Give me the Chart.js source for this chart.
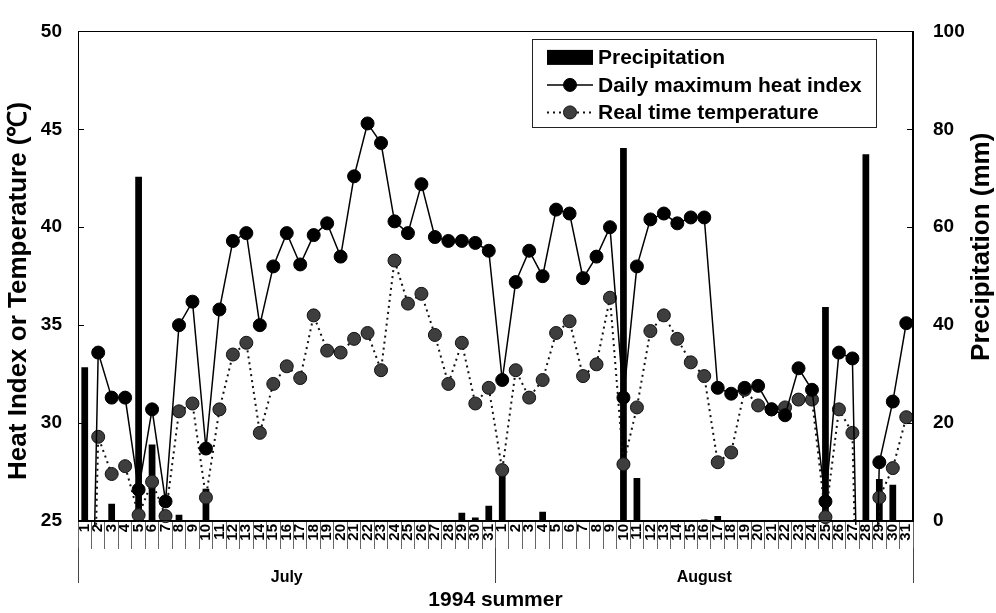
<!DOCTYPE html>
<html>
<head>
<meta charset="utf-8">
<script src="https://cdn.jsdelivr.net/npm/chart.js@4/dist/chart.umd.min.js"></script>
<style>
html,body{margin:0;padding:0;background:#fff;}
#wrap{width:996px;height:613px;}
</style>
</head>
<body>
<div id="wrap"><canvas id="c" width="996" height="613"></canvas></div>
<script>
// ---- data ----
const dayLabels = [
  '1','2','3','4','5','6','7','8','9','10','11','12','13','14','15','16','17','18','19','20','21','22','23','24','25','26','27','28','29','30','31',
  '1','2','3','4','5','6','7','8','9','10','11','12','13','14','15','16','17','18','19','20','21','22','23','24','25','26','27','28','29','30','31'
];
const monthLabels = ['July', 'August'];

// Precipitation (mm), right axis
const precipitation = [
  31.4, 0, 3.5, 0, 70.3, 15.6, 0, 1.3, 0, 6.6, 0, 0, 0, 0, 0, 0, 0, 0, 0, 0, 0, 0, 0, 0, 0, 0, 0, 0, 1.7, 0.7, 3.1,
  11.0, 0, 0, 1.9, 0, 0, 0, 0, 0, 76.2, 8.8, 0, 0, 0, 0.2, 0.3, 1.0, 0, 0, 0, 0, 0, 0, 0, 43.7, 0, 0, 74.9, 8.6, 7.4, 0
];

// Daily maximum heat index (°C), left axis
const heatIndex = [
  0, 33.6, 31.3, 31.3, 26.6, 30.7, 26.0, 35.0, 36.2, 28.7, 35.8, 39.3, 39.7, 35.0, 38.0, 39.7, 38.1, 39.6, 40.2, 38.5, 42.6, 45.3, 44.3, 40.3, 39.7, 42.2, 39.5, 39.3, 39.3, 39.2, 38.8,
  32.2, 37.2, 38.8, 37.5, 40.9, 40.7, 37.4, 38.5, 40.0, 31.3, 38.0, 40.4, 40.7, 40.2, 40.5, 40.5, 31.8, 31.5, 31.8, 31.9, 30.7, 30.4, 32.8, 31.7, 26.0, 33.6, 33.3, 0, 28.0, 31.1, 35.1
];

// Real time temperature (°C), left axis
const realTemp = [
  0, 29.3, 27.4, 27.8, 25.3, 27.0, 25.25, 30.6, 31.0, 26.2, 30.7, 33.5, 34.1, 29.5, 32.0, 32.9, 32.3, 35.5, 33.7, 33.6, 34.3, 34.6, 32.7, 38.3, 36.1, 36.6, 34.5, 32.0, 34.1, 31.0, 31.8,
  27.6, 32.7, 31.3, 32.2, 34.6, 35.2, 32.4, 33.0, 36.4, 27.9, 30.8, 34.7, 35.5, 34.3, 33.1, 32.4, 28.0, 28.5, 31.7, 30.9, 30.7, 30.8, 31.2, 31.2, 25.2, 30.7, 29.5, 0, 26.2, 27.7, 30.3
];

const leftTitle = 'Heat Index or Temperature (\u2103)';
const rightTitle = 'Precipitation (mm)';
const bottomTitle = '1994 summer';

// ---- chart ----
const FAM = "'Liberation Sans', Arial, Helvetica, sans-serif";
Chart.defaults.font.family = FAM;
Chart.defaults.color = '#000';

const framePlugin = {
  id: 'frameAndLegend',
  afterDraw(chart) {
    const ctx = chart.ctx;
    const a = chart.chartArea;
    ctx.save();
    // frame
    ctx.strokeStyle = '#000';
    ctx.lineWidth = 1;
    ctx.setLineDash([]);
    ctx.strokeRect(Math.round(a.left) + 0.5, Math.round(a.top) + 0.5, Math.round(a.width) - 1, Math.round(a.height) - 1);
    // inward tick marks on both value axes
    const ys = chart.scales.y, ys2 = chart.scales.y2;
    ctx.beginPath();
    ys.ticks.forEach(t => {
      const p = Math.round(ys.getPixelForValue(t.value)) + 0.5;
      ctx.moveTo(a.left, p); ctx.lineTo(a.left + 6, p);
    });
    ys2.ticks.forEach(t => {
      const p = Math.round(ys2.getPixelForValue(t.value)) + 0.5;
      ctx.moveTo(a.right, p); ctx.lineTo(a.right - 6, p);
    });
    ctx.stroke();

    // left axis title (reads bottom-to-top)
    ctx.save();
    ctx.font = 'bold 26px ' + FAM;
    ctx.fillStyle = '#000';
    ctx.textAlign = 'center';
    ctx.textBaseline = 'middle';
    ctx.translate(19, a.top + a.height * 0.53);
    ctx.rotate(-Math.PI / 2);
    ctx.fillText(leftTitle, 0, 0);
    ctx.restore();

    // right axis title (reads bottom-to-top)
    ctx.save();
    ctx.font = 'bold 26px ' + FAM;
    ctx.fillStyle = '#000';
    ctx.textAlign = 'center';
    ctx.textBaseline = 'middle';
    ctx.translate(chart.width - 14, a.top + a.height * 0.44);
    ctx.rotate(-Math.PI / 2);
    ctx.fillText(rightTitle, 0, 0);
    ctx.restore();

    // legend box
    const ds = chart.data.datasets;
    ctx.font = 'bold 21px ' + FAM;
    const maxW = Math.max(...ds.map(d => ctx.measureText(d.label).width));
    const boxLeft = a.left + a.width - 381;
    const boxTop = a.top + 8;
    const swL = boxLeft + 15, swR = boxLeft + 61, textX = boxLeft + 66;
    const boxW = textX + maxW + 14 - boxLeft;
    const rowH = 27.5;
    const boxH = 88;
    ctx.fillStyle = '#fff';
    ctx.fillRect(boxLeft, boxTop, boxW, boxH);
    ctx.strokeStyle = '#222';
    ctx.lineWidth = 1;
    ctx.strokeRect(Math.round(boxLeft) + 0.5, Math.round(boxTop) + 0.5, Math.round(boxW), Math.round(boxH));
    ds.forEach((d, i) => {
      const cy = boxTop + 18 + i * rowH;
      ctx.save();
      if (d.type === 'bar') {
        ctx.fillStyle = d.backgroundColor;
        ctx.fillRect(swL, cy - 7.5, swR - swL, 15);
      } else {
        ctx.strokeStyle = d.borderColor;
        ctx.lineWidth = d.borderWidth;
        ctx.setLineDash(d.borderDash || []);
        ctx.beginPath();
        ctx.moveTo(swL, cy); ctx.lineTo(swR, cy);
        ctx.stroke();
        ctx.setLineDash([]);
        ctx.beginPath();
        ctx.arc((swL + swR) / 2, cy, d.pointRadius, 0, Math.PI * 2);
        ctx.fillStyle = d.pointBackgroundColor;
        ctx.fill();
        ctx.lineWidth = d.pointBorderWidth || 1;
        ctx.strokeStyle = d.pointBorderColor;
        ctx.stroke();
      }
      ctx.restore();
      ctx.fillStyle = '#000';
      ctx.textAlign = 'left';
      ctx.textBaseline = 'middle';
      ctx.fillText(d.label, textX, cy + 1);
    });
    ctx.restore();
  }
};

const lineClip = {left: 10, right: 10, top: 10, bottom: 4};

new Chart(document.getElementById('c'), {
  data: {
    labels: dayLabels,
    datasets: [
      {
        type: 'bar', label: 'Precipitation', data: precipitation, yAxisID: 'y2', xAxisID: 'x',
        backgroundColor: '#000', borderWidth: 0, barPercentage: 0.5, categoryPercentage: 1, order: 3
      },
      {
        type: 'line', label: 'Daily maximum heat index', data: heatIndex, yAxisID: 'y', xAxisID: 'x',
        borderColor: '#000', borderWidth: 1.5, tension: 0,
        pointRadius: 6.5, pointBackgroundColor: '#000', pointBorderColor: '#000', pointBorderWidth: 1,
        clip: lineClip, order: 1
      },
      {
        type: 'line', label: 'Real time temperature', data: realTemp, yAxisID: 'y', xAxisID: 'x',
        borderColor: '#111', borderWidth: 2, borderDash: [2, 4], tension: 0,
        pointRadius: 6.5, pointBackgroundColor: '#3e3e3e', pointBorderColor: '#111', pointBorderWidth: 1,
        clip: lineClip, order: 2
      }
    ]
  },
  options: {
    responsive: false,
    animation: false,
    devicePixelRatio: 1,
    layout: {padding: {top: 18, left: 0, right: 0, bottom: 0}},
    plugins: {legend: {display: false}, tooltip: {enabled: false}},
    scales: {
      x: {
        type: 'category', position: 'bottom', offset: true, weight: 0,
        grid: {display: true, drawOnChartArea: false, offset: true, tickLength: 28, color: '#666', lineWidth: 1},
        border: {display: true, color: '#000'},
        ticks: {autoSkip: false, minRotation: 90, maxRotation: 90, padding: -25, color: '#000',
          font: {size: 15, weight: 'bold'}},
        afterFit(s) { s.height = 27; }
      },
      x2: {
        type: 'category', labels: monthLabels, position: 'bottom', offset: true, weight: 1,
        grid: {display: true, drawOnChartArea: false, offset: true, tickLength: 35, color: '#444', lineWidth: 1},
        border: {display: false},
        ticks: {padding: -15, color: '#000', font: {size: 16, weight: 'bold'}},
        title: {display: true, text: bottomTitle, color: '#000', font: {size: 21, weight: 'bold', lineHeight: 1.2}, padding: {top: 0, bottom: 0}},
        afterFit(s) { s.height = 65; }
      },
      y: {
        position: 'left', min: 25, max: 50,
        ticks: {stepSize: 5, padding: 16, color: '#000', font: {size: 19, weight: 'bold'}},
        grid: {display: false, drawTicks: false},
        border: {display: true, color: '#000'},
        afterFit(s) { s.width = 78; }
      },
      y2: {
        position: 'right', min: 0, max: 100,
        ticks: {stepSize: 20, padding: 20, color: '#000', font: {size: 19, weight: 'bold'}},
        grid: {display: false, drawTicks: false},
        border: {display: true, color: '#000'},
        afterFit(s) { s.width = 83; }
      }
    }
  },
  plugins: [framePlugin]
});
</script>
</body>
</html>
